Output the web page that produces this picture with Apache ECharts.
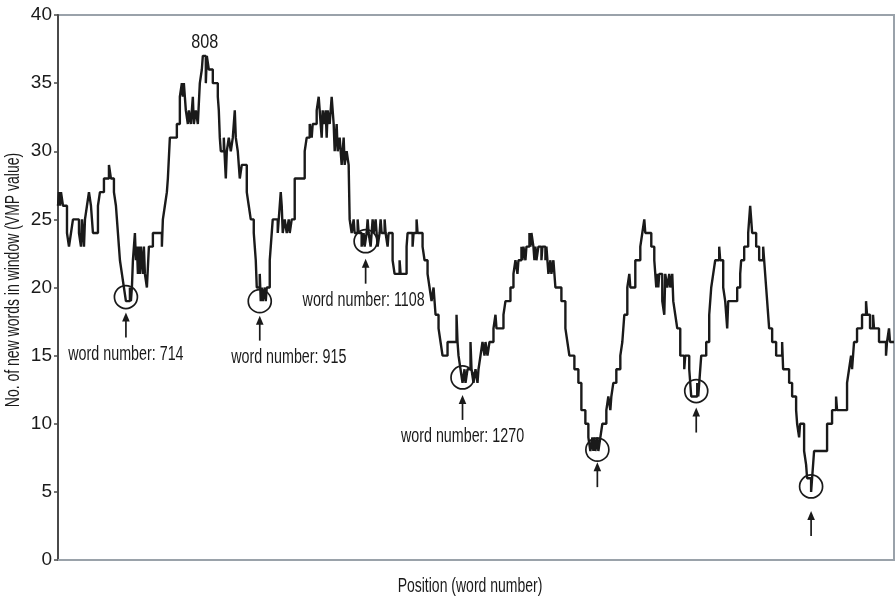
<!DOCTYPE html>
<html>
<head>
<meta charset="utf-8">
<style>
  html, body { margin: 0; padding: 0; background: #fff; }
  #chart { width: 896px; height: 600px; }
</style>
<script src="https://cdn.jsdelivr.net/npm/echarts@6/dist/echarts.min.js"></script>
</head>
<body>
<div id="chart"></div>
<script>
// Position along the text (relative units) where the VMP value changes
const position = [
  0,1,2,3,5,9,11,13,15,21,23,24,25,26,27,29,31,33,35,40,
  42,46,51,53,56,58,59,60,61,62,64,66,68,72,73,74,75,77,78,79,
  80,81,82,83,84,85,86,87,89,91,95,104,105,107,109,110,112,119,122,124,
  125,126,128,130,131,133,135,136,138,140,142,144,145,148,149,151,155,160,161,162,
  163,166,168,169,171,173,175,177,178,180,182,184,189,191,193,196,197,198,199,202,
  203,204,205,207,208,209,212,213,215,220,222,223,224,225,227,229,231,232,234,237,
  247,249,252,254,255,259,261,262,264,265,266,268,269,270,272,274,276,277,279,280,
  282,284,286,287,289,291,292,294,
  296,297,300,301,304,306,307,309,310,311,313,315,316,318,319,320,322,323,324,327,
  328,330,331,335,337,342,343,349,350,355,356,359,360,365,367,370,372,374,376,378,
  381,383,385,390,399,400,401,403,405,407,408,410,413,414,416,418,
  420,421,423,425,427,428,430,432,436,438,439,446,448,453,456,458,460,461,464,465,
  466,468,469,472,473,474,476,477,478,479,481,484,485,488,489,491,493,494,496,498,
  504,508,510,512,517,521,524,528,531,533,535,536,537,538,540,541,543,545,549,551,
  553,554,556,559,
  563,565,567,570,572,573,578,583,585,587,588,594,597,599,600,601,602,605,607,608,
  610,612,613,615,616,618,620,623,627,628,632,634,640,641,642,644,649,652,654,656,
  658,662,663,666,668,670,671,680,683,684,687,691,693,694,695,699,702,
  706,707,709,710,712,715,719,725,726,732,735,739,740,742,743,747,749,750,754,755,
  757,770,775,779,780,790,792,794,795,797,800,805,809,810,813,816,817,822,829,830,
  832,833,837
];

// Number of new words in the window (VMP value) from each position on
const vmp = [
  26,27,26,27,26,24,23,24,25,24,23,25,24,23,25,26,27,26,24,26,
  27,28,29,28,27,26,25,24,23,22,21,20,19,20,19,20,22,24,22,23,
  21,23,21,23,22,21,23,21,20,23,24,23,25,26,27,28,31,32,34,35,
  34,35,33,32,33,32,34,32,33,32,35,36,37,35,37,36,35,34,33,31,
  30,31,28,30,31,30,31,33,31,30,28,29,27,26,25,24,23,22,20,21,
  19,20,19,20,19,20,22,23,25,24,26,27,26,24,25,24,25,24,25,28,
  30,31,32,31,32,33,34,33,31,33,32,33,31,33,32,34,32,30,32,30,
  31,29,31,29,30,29,25,24,
  25,24,25,24,23,24,23,24,25,24,23,25,24,25,24,23,24,25,24,25,
  24,23,24,22,21,22,21,23,24,23,24,25,24,23,22,21,20,19,20,18,
  17,16,15,16,18,16,15,14,13,14,13,14,16,14,13,14,
  13,14,15,16,15,16,15,16,17,18,17,18,19,20,21,22,21,22,23,22,
  23,22,23,24,23,24,23,22,23,22,23,22,23,22,23,21,22,21,22,20,
  19,17,16,15,14,13,11,10,9,8,9,8,9,8,9,8,9,10,11,12,
  11,12,13,14,
  15,16,18,20,21,20,22,23,24,25,24,23,22,20,21,20,21,19,18,21,
  20,21,20,21,19,18,17,15,14,15,14,12,13,12,13,15,16,18,20,21,
  22,23,22,20,19,17,19,20,21,22,23,24,26,25,24,23,22,
  23,22,20,19,17,16,15,16,14,13,12,11,10,9,10,8,7,6,5,6,
  8,10,11,12,11,13,14,15,14,16,17,18,19,18,17,18,17,16,15,16,
  17,16,16
];

// Marked local minima: where each circle sits and its caption
const minimaPos = [68, 202, 308, 405, 540, 639, 754];
const minimaVmp = [19.3, 19.0, 23.4, 13.4, 8.1, 12.4, 5.4];
const minimaText = ['word number: 714', 'word number: 915', 'word number: 1108',
                    'word number: 1270', '', '', ''];

// Peak caption
const peakPos = [147];
const peakVmp = [37];
const peakText = ['808'];

const yTicks = [0, 5, 10, 15, 20, 25, 30, 35, 40];
const xTitle = 'Position (word number)';
const yTitle = 'No. of new words in window (VMP value)';

// Layout of the callouts (pixels): extra gap under the circle, caption shift
const calloutLayout = [
  { gap: 4, dx: 0 }, { gap: 3, dx: 29 }, { gap: 6, dx: -2 }, { gap: 6, dx: 0 },
  { gap: 1, dx: 0 }, { gap: 5, dx: 0 }, { gap: 13, dx: 0 }
];

const FAMILY = "'Liberation Sans', Arial, sans-serif";
const FONT = '20px ' + FAMILY;
const NARROW = 0.715;   // horizontal squeeze for a condensed look
const INK = '#1a1a1a';

const chart = echarts.init(document.getElementById('chart'), null, { renderer: 'canvas' });

const lineData = position.map((p, i) => [p, vmp[i]]);
const minimaData = minimaPos.map((p, i) => [p, minimaVmp[i], i]);
const peakData = peakPos.map((p, i) => [p, peakVmp[i], i]);

function narrowText(x, y, text, squeeze) {
  return {
    type: 'text', x: x, y: y, scaleX: squeeze,
    style: { x: 0, y: 0, text: text, fill: INK, font: FONT, textAlign: 'center', textVerticalAlign: 'middle' }
  };
}

function renderMinimum(params, api) {
  const i = api.value(2);
  const c = api.coord([api.value(0), api.value(1)]);
  const r = 11.5;
  const lay = calloutLayout[i];
  const tipY = c[1] + r + lay.gap;
  const tailY = tipY + 25;
  const children = [
    { type: 'circle', shape: { cx: c[0], cy: c[1], r: r },
      style: { fill: 'none', stroke: INK, lineWidth: 1.7 } },
    { type: 'line', shape: { x1: c[0], y1: tipY + 6, x2: c[0], y2: tailY },
      style: { stroke: INK, lineWidth: 1.7 } },
    { type: 'polygon', shape: { points: [[c[0], tipY], [c[0] - 3.8, tipY + 9], [c[0] + 3.8, tipY + 9]] },
      style: { fill: INK } }
  ];
  if (minimaText[i]) {
    children.push(narrowText(c[0] + lay.dx, tailY + 17, minimaText[i], NARROW));
  }
  return { type: 'group', children: children };
}

function renderPeak(params, api) {
  const i = api.value(2);
  const c = api.coord([api.value(0), api.value(1)]);
  return narrowText(c[0], c[1] - 13, peakText[i], 0.81);
}

chart.setOption({
  animation: false,
  backgroundColor: '#ffffff',
  grid: {
    left: 58, right: 2, top: 15, bottom: 40,
    show: true, borderColor: '#9aa2aa', borderWidth: 2, backgroundColor: 'transparent'
  },
  xAxis: {
    type: 'value', min: 0, max: 837,
    axisLine: { show: true, lineStyle: { color: '#9aa2aa', width: 2 } },
    axisTick: { show: false }, axisLabel: { show: false }, splitLine: { show: false }
  },
  yAxis: {
    type: 'value', min: yTicks[0], max: yTicks[yTicks.length - 1], interval: yTicks[1] - yTicks[0],
    axisLine: { show: true, lineStyle: { color: '#4a4a4a', width: 2 } },
    axisTick: { show: true, length: 4, lineStyle: { color: '#4a4a4a', width: 1.5 } },
    axisLabel: { fontFamily: FAMILY, fontSize: 19, color: INK, margin: 6 },
    splitLine: { show: false }
  },
  graphic: [
    {
      type: 'text', x: 470, y: 586, scaleX: 0.70,
      style: { x: 0, y: 0, text: xTitle, fill: INK, font: FONT, textAlign: 'center', textVerticalAlign: 'middle' }
    },
    {
      type: 'text', x: 13, y: 280, rotation: Math.PI / 2, scaleX: 0.70,
      style: { x: 0, y: 0, text: yTitle, fill: INK, font: FONT, textAlign: 'center', textVerticalAlign: 'middle' }
    }
  ],
  series: [
    {
      type: 'line', step: 'end', data: lineData, showSymbol: false,
      lineStyle: { color: INK, width: 2.4 }, z: 3
    },
    {
      type: 'custom', data: minimaData, renderItem: renderMinimum,
      encode: { x: 0, y: 1 }, z: 4, clip: false
    },
    {
      type: 'custom', data: peakData, renderItem: renderPeak,
      encode: { x: 0, y: 1 }, z: 4, clip: false
    }
  ]
});
</script>
</body>
</html>
